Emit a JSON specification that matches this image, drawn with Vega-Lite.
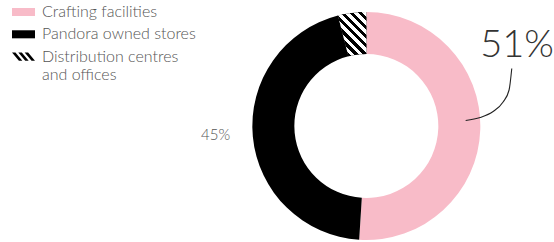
{
  "$schema": "https://vega.github.io/schema/vega-lite/v6.json",
  "width": 554,
  "height": 242,
  "padding": 0,
  "autosize": {"type": "fit", "contains": "padding"},
  "background": "#ffffff",
  "config": {"view": {"stroke": null}},
  "datasets": {
    "shares": [
      {"cat": "Crafting facilities", "value": 51, "rank": 1},
      {"cat": "Pandora owned stores", "value": 45, "rank": 2},
      {"cat": "Distribution centres and offices", "value": 4, "rank": 3}
    ]
  },
  "layer": [
    {
      "data": {"name": "shares"},
      "mark": {"type": "point", "filled": true, "size": 529, "opacity": 1, "strokeWidth": 0},
      "encoding": {
        "x": {"datum": 286, "type": "quantitative", "scale": {"domain": [0, 554], "nice": false, "zero": false}, "axis": null},
        "y": {"datum": 172, "type": "quantitative", "scale": {"domain": [0, 242], "nice": false, "zero": false, "reverse": true}, "axis": null},
        "shape": {
          "field": "cat",
          "type": "nominal",
          "sort": null,
          "scale": {
            "domain": ["Crafting facilities", "Pandora owned stores", "Distribution centres and offices"],
            "range": [
              "M-1,-0.35H1V0.35H-1Z",
              "M-1,-0.35H1V0.35H-1Z",
              "M-1,-0.35H-0.7L-0.1,0.35H-0.4Z M-0.45,-0.35H-0.15L0.45,0.35H0.15Z M0.1,-0.35H0.4L1,0.35H0.7Z"
            ]
          },
          "legend": {"title": null}
        },
        "color": {
          "field": "cat",
          "type": "nominal",
          "sort": null,
          "scale": {
            "domain": ["Crafting facilities", "Pandora owned stores", "Distribution centres and offices"],
            "range": ["#f8bbc8", "#000000", "#000000"]
          },
          "legend": {
            "title": null,
            "orient": "none",
            "legendX": 12,
            "legendY": 0.5,
            "padding": 0,
            "symbolSize": 529,
            "symbolStrokeWidth": 0,
            "symbolOpacity": 1,
            "rowPadding": 2.3,
            "labelOffset": 7,
            "labelFont": "Lato",
            "labelFontSize": 16,
            "labelFontWeight": 300,
            "labelColor": "#555555",
            "labelLimit": 300,
            "labelExpr": "datum.value === 'Distribution centres and offices' ? ['Distribution centres', 'and offices'] : datum.label",
            "encode": {
              "labels": {
                "lineHeight": {"value": 22},
                "dy": {"condition": {"test": "datum.value === 'Distribution centres and offices'", "value": 11}, "value": 0}
              }
            }
          }
        }
      }
    },
    {
      "data": {"name": "shares"},
      "mark": {"type": "arc", "innerRadius": 72, "outerRadius": 114, "stroke": null},
      "encoding": {
        "theta": {"field": "value", "type": "quantitative", "stack": true},
        "order": {"field": "rank", "type": "quantitative"},
        "x": {"datum": 367, "type": "quantitative"},
        "y": {"datum": 126, "type": "quantitative"},
        "color": {"field": "cat", "type": "nominal", "sort": null, "legend": null}
      }
    },
    {
      "data": {"name": "shares"},
      "mark": {"type": "arc", "innerRadius": 72, "outerRadius": 114, "stroke": null,
        "fill": {
          "gradient": "linear", "x1": 0, "y1": 1, "x2": 0.745, "y2": -0.164,
          "stops": [
            {"offset": 0, "color": "#000"}, {"offset": 0.0625, "color": "#000"}, {"offset": 0.0625, "color": "#fff"}, {"offset": 0.125, "color": "#fff"},
            {"offset": 0.125, "color": "#000"}, {"offset": 0.1875, "color": "#000"}, {"offset": 0.1875, "color": "#fff"}, {"offset": 0.25, "color": "#fff"},
            {"offset": 0.25, "color": "#000"}, {"offset": 0.3125, "color": "#000"}, {"offset": 0.3125, "color": "#fff"}, {"offset": 0.375, "color": "#fff"},
            {"offset": 0.375, "color": "#000"}, {"offset": 0.4375, "color": "#000"}, {"offset": 0.4375, "color": "#fff"}, {"offset": 0.5, "color": "#fff"},
            {"offset": 0.5, "color": "#000"}, {"offset": 0.5625, "color": "#000"}, {"offset": 0.5625, "color": "#fff"}, {"offset": 0.625, "color": "#fff"},
            {"offset": 0.625, "color": "#000"}, {"offset": 0.6875, "color": "#000"}, {"offset": 0.6875, "color": "#fff"}, {"offset": 0.75, "color": "#fff"},
            {"offset": 0.75, "color": "#000"}, {"offset": 0.8125, "color": "#000"}, {"offset": 0.8125, "color": "#fff"}, {"offset": 0.875, "color": "#fff"},
            {"offset": 0.875, "color": "#000"}, {"offset": 0.9375, "color": "#000"}, {"offset": 0.9375, "color": "#fff"}, {"offset": 1, "color": "#fff"}
          ]
        }
      },
      "encoding": {
        "theta": {"field": "value", "type": "quantitative", "stack": true},
        "order": {"field": "rank", "type": "quantitative"},
        "x": {"datum": 367, "type": "quantitative"},
        "y": {"datum": 126, "type": "quantitative"},
        "fillOpacity": {
          "condition": {"test": "datum.cat === 'Distribution centres and offices'", "value": 1},
          "value": 0
        }
      }
    },
    {
      "data": {"values": [
        {"px": 466.5, "py": 120.5},
        {"px": 481, "py": 117.5},
        {"px": 494, "py": 111.5},
        {"px": 504, "py": 102},
        {"px": 510, "py": 90},
        {"px": 512.7, "py": 68.5}
      ]},
      "mark": {"type": "line", "color": "#222222", "strokeWidth": 1.1, "interpolate": "monotone"},
      "encoding": {
        "x": {"field": "px", "type": "quantitative"},
        "y": {"field": "py", "type": "quantitative"}
      }
    },
    {
      "data": {"values": [{"t": "51%"}]},
      "mark": {"type": "text", "font": "Lato", "fontWeight": 300, "fontSize": 38, "color": "#333333", "align": "center", "baseline": "alphabetic"},
      "encoding": {
        "text": {"field": "t"},
        "x": {"datum": 518, "type": "quantitative"},
        "y": {"datum": 57, "type": "quantitative"}
      }
    },
    {
      "data": {"values": [{"t": "45%"}]},
      "mark": {"type": "text", "font": "Lato", "fontWeight": 300, "fontSize": 15, "color": "#555555", "align": "center", "baseline": "alphabetic"},
      "encoding": {
        "text": {"field": "t"},
        "x": {"datum": 216, "type": "quantitative"},
        "y": {"datum": 140, "type": "quantitative"}
      }
    }
  ]
}
